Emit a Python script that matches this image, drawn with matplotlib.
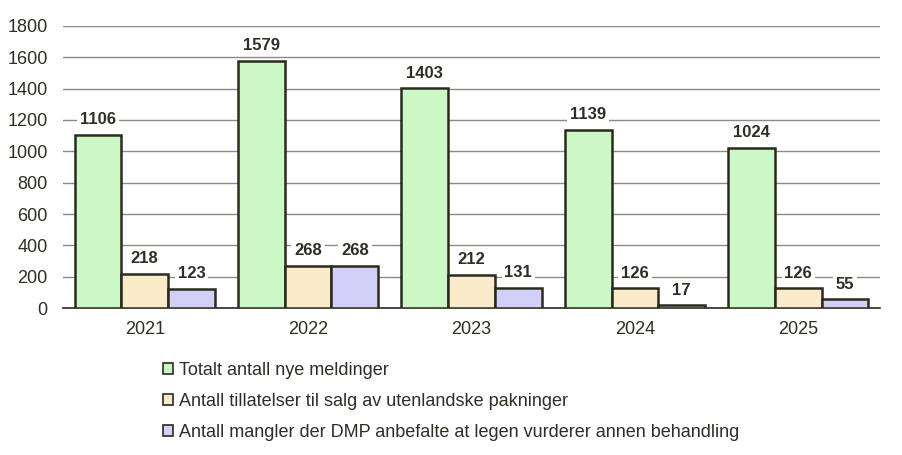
import numpy as np
import matplotlib
matplotlib.use("Agg")
import matplotlib.pyplot as plt
from matplotlib.patches import Patch

plt.rcParams['font.family'] = ['Liberation Sans', 'DejaVu Sans']

years = ['2021', '2022', '2023', '2024', '2025']
totalt = [1106, 1579, 1403, 1139, 1024]
tillatelser = [218, 268, 212, 126, 126]
mangler = [123, 268, 131, 17, 55]

series_names = ['Totalt antall nye meldinger',
                'Antall tillatelser til salg av utenlandske pakninger',
                'Antall mangler der DMP anbefalte at legen vurderer annen behandling']
colors = ['#ccf8c6', '#faebcb', '#d0d0f8']
edge = '#2a2a1e'
txt = '#2e2e24'

fig = plt.figure(figsize=(9.03, 4.55), dpi=100)
ax = fig.add_axes([0.0698, 0.323, 0.9047, 0.620])

x = np.arange(len(years))
w = 0.286
for i, (vals, c) in enumerate(zip([totalt, tillatelser, mangler], colors)):
    pos = x + (i - 1) * w
    ax.bar(pos, vals, width=w, color=c, edgecolor=edge, linewidth=1.8, zorder=3)
    for px, v in zip(pos, vals):
        ax.annotate(str(v), (px, v), xytext=(0, 5.5), textcoords='offset points',
                    ha='center', va='bottom', fontsize=12, fontweight='bold', color=txt,
                    bbox=dict(facecolor='white', edgecolor='none', pad=2), zorder=4)

ax.set_xlim(-0.5, len(years) - 0.5)
ax.set_ylim(0, 1800)
ax.set_yticks(range(0, 1801, 200))
ax.set_xticks(x)
ax.set_xticklabels(years)
ax.grid(axis='y', color='#8c8c84', linewidth=1, zorder=0)
for s in ['top', 'right', 'left']:
    ax.spines[s].set_visible(False)
ax.spines['bottom'].set_color(edge)
ax.spines['bottom'].set_linewidth(1.2)
ax.tick_params(axis='both', length=0, labelsize=13, colors=txt)
ax.tick_params(axis='y', pad=11)
ax.tick_params(axis='x', pad=9)

handles = [Patch(facecolor=c, edgecolor=edge, linewidth=1.2) for c in colors]
fig.legend(handles, series_names, loc='upper left', bbox_to_anchor=(0.172, 0.221),
           frameon=False, fontsize=13, handlelength=0.6, handleheight=0.6,
           handletextpad=0.3, labelspacing=0.78, labelcolor=txt, borderaxespad=0)

fig.savefig('out.png', dpi=100)
